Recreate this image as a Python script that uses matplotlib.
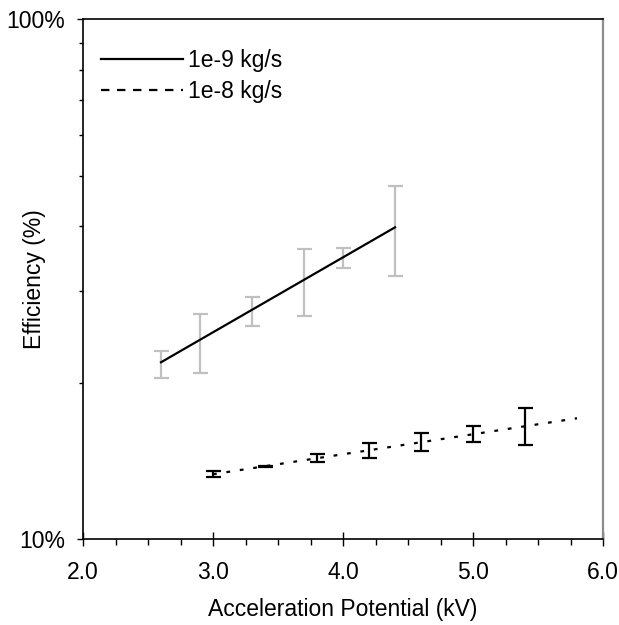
import numpy as np
import matplotlib
matplotlib.use('Agg')
import matplotlib.pyplot as plt
from matplotlib.lines import Line2D
from matplotlib.ticker import MultipleLocator, FormatStrFormatter, LogLocator, NullFormatter

# 1e-9 kg/s runs (grey error bars)
volt_9 = [2.6, 2.9, 3.3, 3.7, 4.0, 4.4]
eff_9 = [21.7, 24.0, 27.5, 31.5, 34.8, 39.9]
err_9 = [1.3, 3.1, 1.8, 4.6, 1.5, 7.8]
trend_9_x = [2.6, 4.4]
trend_9_y = [21.9, 39.8]

# 1e-8 kg/s runs (black error bars)
volt_8 = [3.0, 3.4, 3.8, 4.2, 4.6, 5.0, 5.4]
eff_8 = [13.34, 13.8, 14.35, 14.85, 15.38, 15.95, 16.54]
err_8 = [0.17, 0.05, 0.27, 0.5, 0.6, 0.56, 1.38]
trend_8_x = [3.0, 5.8]
trend_8_y = [13.34, 17.09]

plt.rcParams['font.family'] = ['Liberation Sans', 'DejaVu Sans']
plt.rcParams['font.size'] = 16.5

fig = plt.figure(figsize=(6.19, 6.25), dpi=100)
ax = fig.add_axes([83 / 619, 1 - 539.3 / 625, 520 / 619, 520 / 625])

ax.errorbar(volt_9, eff_9, yerr=err_9, fmt='none', ecolor='#c0c0c0',
            elinewidth=1.6, capsize=5.4, capthick=1.6, zorder=2)
ax.errorbar(volt_8, eff_8, yerr=err_8, fmt='none', ecolor='black',
            elinewidth=1.6, capsize=5.4, capthick=1.6, zorder=2)
ax.plot(trend_9_x, trend_9_y, color='black', lw=1.6, zorder=3)
ax.plot(trend_8_x, trend_8_y, color='black', lw=1.6, linestyle=(0, (1.7, 4.4)), zorder=3)

ax.set_yscale('log')
ax.set_ylim(10, 100)
ax.set_xlim(2.0, 6.0)
ax.set_yticks([10, 100], ['10%', '100%'])
ax.yaxis.set_minor_locator(LogLocator(base=10, subs=np.arange(2, 10)))
ax.yaxis.set_minor_formatter(NullFormatter())
ax.xaxis.set_major_locator(MultipleLocator(1.0))
ax.xaxis.set_major_formatter(FormatStrFormatter('%.1f'))
ax.xaxis.set_minor_locator(MultipleLocator(0.25))

ax.tick_params(axis='x', which='major', direction='inout', length=9.4, width=1.0, pad=11)
ax.tick_params(axis='x', which='minor', direction='out', length=4.0, width=1.0)
ax.tick_params(axis='y', which='major', direction='out', length=4.3, width=1.0, pad=8.5)
ax.tick_params(axis='y', which='minor', direction='out', length=3.2, width=1.0)

for side in ['left', 'bottom', 'top']:
    ax.spines[side].set_linewidth(1.2)
ax.spines['right'].set_color('#8c8c8c')
ax.spines['right'].set_linewidth(1.6)

ax.set_xlabel('Acceleration Potential (kV)', labelpad=10)
ax.set_ylabel('Efficiency (%)')
ax.yaxis.set_label_coords(-0.072, 0.5)

handles = [Line2D([], [], color='black', lw=1.6),
           Line2D([], [], color='black', lw=1.6, linestyle=(0, (3.8, 3.4)))]
ax.legend(handles, ['1e-9 kg/s', '1e-8 kg/s'], loc='upper left',
          bbox_to_anchor=(0.035, 0.943), frameon=False,
          borderpad=0, borderaxespad=0, handlelength=3.56, handletextpad=0.22,
          labelspacing=0.36)

fig.savefig('out.png', dpi=100)
